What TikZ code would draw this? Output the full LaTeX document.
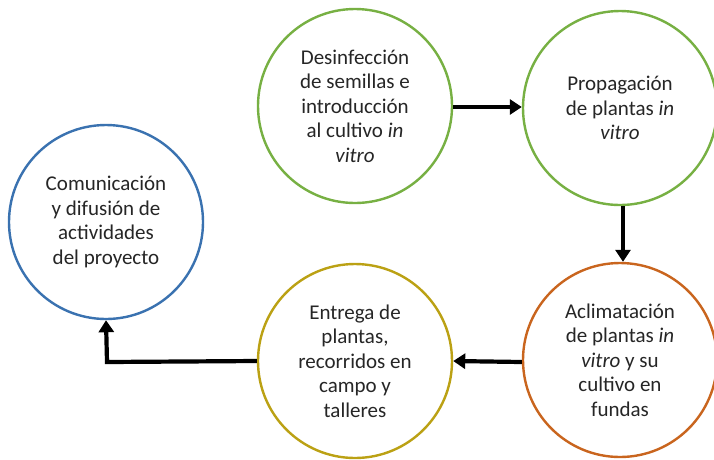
\documentclass[tikz,border=0pt]{standalone}
\usepackage{fontspec}
\setmainfont{Carlito}
\usetikzlibrary{arrows.meta}
\definecolor{cgreen}{HTML}{77B043}
\definecolor{corange}{HTML}{C9651E}
\definecolor{cgold}{HTML}{BBA114}
\definecolor{cblue}{HTML}{3A72B0}
\definecolor{ctext}{HTML}{262626}
\begin{document}
\begin{tikzpicture}[x=1pt,y=-1pt,
  circ/.style={circle,draw=#1,line width=2.4pt,fill=white,minimum size=194pt,inner sep=0pt,
    align=center,text=ctext,font=\fontsize{21}{24.5}\selectfont},
  conn/.style={line width=4.2pt,line join=miter,-{Triangle[length=12pt,width=15pt]}}]
\useasboundingbox (0,0) rectangle (714,459);
\node[circ=cgreen] (des) at (355,106) {Desinfección\\de semillas e\\introducción\\al cultivo \textit{in}\\\textit{vitro}};
\node[circ=cgreen] (pro) at (620,108) {Propagación\\de plantas \textit{in}\\\textit{vitro}};
\node[circ=corange] (acl) at (620,360) {Aclimatación\\de plantas \textit{in}\\\textit{vitro} y su\\cultivo en\\fundas};
\node[circ=cgold] (ent) at (355,361) {Entrega de\\plantas,\\recorridos en\\campo y\\talleres};
\node[circ=cblue] (com) at (106,222) {Comunicación\\y difusión de\\actividades\\del proyecto};
\draw[conn] (des.east |- 0,107) -- (pro.west |- 0,107);
\draw[conn] (623,0 |- pro.south) -- (623,0 |- acl.north);
\draw[conn] (acl.west |- 0,362) -- (ent.west -| ent.east) ;
\coordinate (corner) at (107,362);
\draw[conn] (ent.west) -- (corner) -- (com.south);
\end{tikzpicture}
\end{document}
